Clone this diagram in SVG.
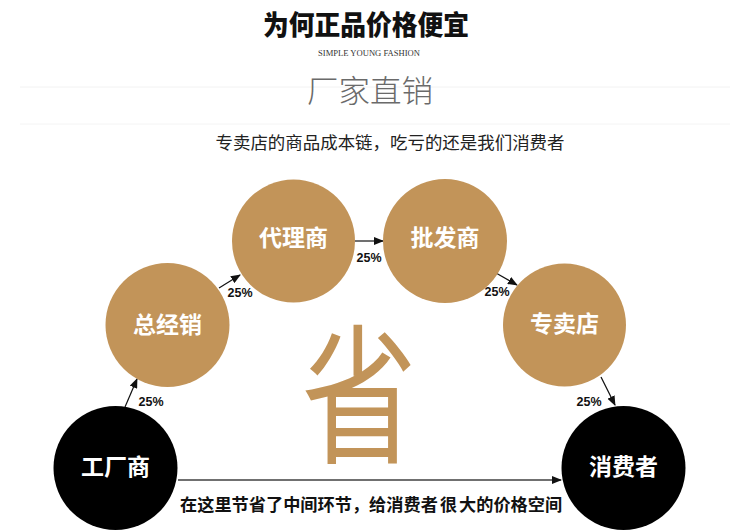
<svg xmlns="http://www.w3.org/2000/svg" width="750" height="532" viewBox="0 0 750 532">
<defs>
<style>
.gold{fill:#C29459}
.blk{fill:#000}
.nt{font-family:"Liberation Sans","Noto Sans CJK SC",sans-serif;font-weight:bold;font-size:23px;fill:#fff;text-anchor:middle;dominant-baseline:central}
.pct{font-family:"Liberation Sans",Arial,sans-serif;font-weight:bold;font-size:12.5px;fill:#111;text-anchor:middle;dominant-baseline:central}
.ar{stroke:#111;stroke-width:1.2;fill:none;marker-end:url(#ah)}
.bt{font-family:"Noto Sans CJK SC",sans-serif;font-weight:bold;font-size:17.2px;fill:#111;dominant-baseline:central}
</style>
<marker id="ah" markerUnits="userSpaceOnUse" markerWidth="10" markerHeight="8" refX="9" refY="4" orient="auto">
<path d="M0,0 L10,4 L0,8 z" fill="#111"/>
</marker>
</defs>
<rect width="750" height="532" fill="#fff"/>
<line x1="20" y1="87" x2="730" y2="87" stroke="#f2f2f2" stroke-width="1"/>
<line x1="20" y1="124" x2="730" y2="124" stroke="#f4f4f4" stroke-width="1"/>
<text x="366" y="23" font-family="'Noto Sans CJK SC',sans-serif" font-weight="900" font-size="27" fill="#111" text-anchor="middle" dominant-baseline="central" textLength="206" lengthAdjust="spacingAndGlyphs">为何正品价格便宜</text>
<text x="369" y="53" font-family="'Liberation Serif',serif" font-size="7.5" fill="#333" text-anchor="middle" dominant-baseline="central" textLength="102" lengthAdjust="spacingAndGlyphs">SIMPLE YOUNG FASHION</text>
<text x="370" y="88" font-family="'Noto Sans CJK SC',sans-serif" font-weight="300" font-size="31" fill="#6a6a6a" text-anchor="middle" dominant-baseline="central" textLength="126" lengthAdjust="spacingAndGlyphs">厂家直销</text>
<text x="390" y="141" font-family="'Noto Sans CJK SC',sans-serif" font-size="17" fill="#222" text-anchor="middle" dominant-baseline="central" textLength="349" lengthAdjust="spacingAndGlyphs">专卖店的商品成本链，吃亏的还是我们消费者</text>
<text transform="translate(359,386) scale(0.78,1.02)" font-family="'Noto Sans CJK SC',sans-serif" font-weight="400" font-size="148" fill="#C29459" text-anchor="middle" dominant-baseline="central">省</text>
<g id="connectors">
<line class="ar" x1="125" y1="407" x2="137" y2="379"/>
<line class="ar" x1="219" y1="288" x2="240" y2="275"/>
<line class="ar" x1="355" y1="241" x2="383" y2="241"/>
<line class="ar" x1="496" y1="273" x2="517" y2="285"/>
<line class="ar" x1="601" y1="377" x2="615" y2="405"/>
<line x1="178" y1="480" x2="561" y2="480" stroke="#707070" stroke-width="2" marker-end="url(#ah)"/>
<text class="pct" x="151" y="402">25%</text>
<text class="pct" x="240" y="293">25%</text>
<text class="pct" x="369" y="258">25%</text>
<text class="pct" x="497" y="292">25%</text>
<text class="pct" x="589" y="402">25%</text>
</g>
<g id="n-factory"><circle class="blk" cx="115.5" cy="468" r="62"/><text class="nt" x="115.5" y="467">工厂商</text></g>
<g id="n-general"><circle class="gold" cx="167.5" cy="325" r="62"/><text class="nt" x="167.5" y="325">总经销</text></g>
<g id="n-agent"><circle class="gold" cx="293.5" cy="241" r="61.5"/><text class="nt" x="293.5" y="238">代理商</text></g>
<g id="n-wholesale"><circle class="gold" cx="445" cy="241" r="62"/><text class="nt" x="445" y="238">批发商</text></g>
<g id="n-store"><circle class="gold" cx="564.5" cy="325" r="61.5"/><text class="nt" x="564.5" y="324">专卖店</text></g>
<g id="n-consumer"><circle class="blk" cx="623.5" cy="468" r="62"/><text class="nt" x="623.5" y="467">消费者</text></g>
<text class="bt" x="180" y="503">在这里节省了中间环节，给消费者</text>
<text class="bt" x="440" y="503" font-size="16.5" font-weight="normal" fill="#333">很</text>
<text class="bt" x="459" y="503">大的价格空间</text>
</svg>
